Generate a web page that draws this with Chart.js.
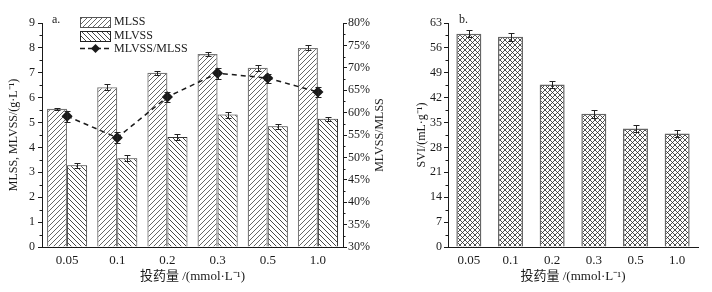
<!DOCTYPE html>
<html><head><meta charset="utf-8">
<script src="https://cdn.jsdelivr.net/npm/chart.js@4/dist/chart.umd.min.js"></script>
<style>
html,body{margin:0;padding:0;background:#fff;}
#wrap{position:relative;width:712px;height:292px;}
canvas{position:absolute;top:0;}
#ca{left:0;} #cb{left:400px;}
</style></head><body>
<div id="wrap"><canvas id="ca" width="400" height="292"></canvas><canvas id="cb" width="312" height="292"></canvas></div>
<script>
// ---- data ----
const doses=['0.05','0.1','0.2','0.3','0.5','1.0'];
const mlss=[5.55,6.42,7.0,7.75,7.2,8.0];
const mlssErr=[0.04,0.11,0.09,0.07,0.12,0.1];
const mlvss=[3.28,3.57,4.42,5.32,4.85,5.15];
const mlvssErr=[0.1,0.11,0.13,0.12,0.1,0.09];
const ratio=[59.2,54.4,63.5,68.8,67.7,64.6];
const ratioErr=[1.2,1.2,1.1,1.2,1.0,1.1];
const svi=[60.0,59.1,45.7,37.5,33.3,31.9];
const sviErr=[1.0,1.1,1.1,1.1,1.0,0.9];
const massAxis={min:0,max:9,step:1};
const ratioAxis={min:30,max:80,step:5};
const sviAxis={min:0,max:63,step:7};

const FONT="'Liberation Serif','Times New Roman','Noto Sans CJK SC',serif";
const INK='#1a1a1a';
const xTitle='投药量 /(mmol·L⁻¹)';

// ---- fill patterns ----
function hatch(ctx,kind,color,lw,size){
  const c=document.createElement('canvas');c.width=c.height=size;
  const x=c.getContext('2d');x.fillStyle='#fff';x.fillRect(0,0,size,size);
  x.strokeStyle=color;x.lineWidth=lw;x.beginPath();
  if(kind!=='\\'){x.moveTo(-1,size+1);x.lineTo(size+1,-1);x.moveTo(-1,1);x.lineTo(1,-1);x.moveTo(size-1,size+1);x.lineTo(size+1,size-1);}
  if(kind!=='/'){x.moveTo(-1,-1);x.lineTo(size+1,size+1);x.moveTo(size-1,-1);x.lineTo(size+1,1);x.moveTo(-1,size-1);x.lineTo(1,size+1);}
  x.stroke();
  return ctx.createPattern(c,'repeat');
}

// ---- plugins ----
const errorBars={id:'errorBars',afterDatasetsDraw(chart){
  const ctx=chart.ctx;
  chart.data.datasets.forEach((ds,di)=>{
    if(!ds.err)return;
    const meta=chart.getDatasetMeta(di);const sc=chart.scales[meta.yAxisID];
    ctx.save();ctx.strokeStyle='#222';ctx.lineWidth=1;
    meta.data.forEach((el,i)=>{
      const x=Math.round(el.x)+0.5;
      const y1=Math.round(sc.getPixelForValue(ds.data[i]+ds.err[i]))+0.5;
      const y2=Math.round(sc.getPixelForValue(ds.data[i]-ds.err[i]))+0.5;
      ctx.beginPath();ctx.moveTo(x,y1);ctx.lineTo(x,y2);
      ctx.moveTo(x-3,y1);ctx.lineTo(x+3,y1);ctx.moveTo(x-3,y2);ctx.lineTo(x+3,y2);ctx.stroke();
    });
    ctx.restore();
  });
}};
const minorTicks={id:'minorTicks',afterDraw(chart){
  const ctx=chart.ctx;ctx.save();ctx.strokeStyle=INK;ctx.lineWidth=1;
  Object.values(chart.scales).forEach(sc=>{
    if(sc.axis!=='y')return;
    const t=sc.ticks;
    const x=sc.position==='left'?chart.chartArea.left:chart.chartArea.right;
    const d=sc.position==='left'?-2.5:2.5;
    for(let i=0;i<t.length-1;i++){
      const y=Math.round(sc.getPixelForValue((t[i].value+t[i+1].value)/2))+0.5;
      ctx.beginPath();ctx.moveTo(x,y);ctx.lineTo(x+d,y);ctx.stroke();
    }
  });
  ctx.restore();
}};

function yScale(pos,rng,cb,width,pad){
  return {position:pos,min:rng.min,max:rng.max,
    grid:{drawOnChartArea:false,drawTicks:true,tickLength:4,tickColor:INK},
    border:{display:true,color:INK,width:1},
    ticks:{stepSize:rng.step,padding:pad,color:INK,font:{family:FONT,size:12},callback:cb},
    afterFit(s){s.width=width;}};
}
function xScale(){
  return {grid:{display:false,drawTicks:false},border:{display:true,color:INK,width:1},
    ticks:{padding:6,color:INK,font:{family:FONT,size:13}},
    title:{display:true,text:xTitle,color:INK,font:{family:FONT,size:13},padding:{top:0,bottom:8}},
    afterFit(s){s.height=45;}};
}

// ---- chart a ----
const ctxA=document.getElementById('ca').getContext('2d');
const patA=hatch(ctxA,'/','#555',0.9,5);
const patB=hatch(ctxA,'\\','#333',0.9,5);
const annotA={id:'annotA',afterDraw(chart){
  const c=chart.ctx,a=chart.chartArea;c.save();
  c.fillStyle=INK;c.font='12px '+FONT;c.textBaseline='middle';
  c.fillText('a.',52,20);
  c.fillStyle=patA;c.fillRect(80,17,30,10);c.strokeStyle='#555';c.lineWidth=1;c.strokeRect(80.5,17.5,30,10);
  c.fillStyle=patB;c.fillRect(80,31,30,10);c.strokeStyle='#222';c.strokeRect(80.5,31.5,30,10);
  c.strokeStyle=INK;c.lineWidth=1.5;c.setLineDash([5,3]);c.beginPath();c.moveTo(80,48.5);c.lineTo(111,48.5);c.stroke();c.setLineDash([]);
  c.fillStyle=INK;c.beginPath();c.moveTo(95.5,44);c.lineTo(100,48.5);c.lineTo(95.5,53);c.lineTo(91,48.5);c.closePath();c.fill();
  c.fillText('MLSS',114,22);c.fillText('MLVSS',114,36);c.fillText('MLVSS/MLSS',114,49);
  c.translate(380,(a.top+a.bottom)/2);c.rotate(-Math.PI/2);c.textAlign='center';
  c.fillText('MLVSS/MLSS',0,0);
  c.restore();
}};
new Chart(ctxA,{
  type:'bar',
  data:{labels:doses,datasets:[
    {type:'line',label:'MLVSS/MLSS',data:ratio,err:ratioErr,yAxisID:'y1',order:0,
     borderColor:INK,borderWidth:1.5,borderDash:[5,4],pointStyle:'rectRot',pointRadius:4.5,
     pointBackgroundColor:INK,pointBorderColor:INK,fill:false,tension:0},
    {label:'MLSS',data:mlss,err:mlssErr,yAxisID:'y',order:2,backgroundColor:patA,borderColor:'#777',borderWidth:1.3},
    {label:'MLVSS',data:mlvss,err:mlvssErr,yAxisID:'y',order:2,backgroundColor:patB,borderColor:'#333',borderWidth:1},
  ]},
  options:{responsive:false,animation:false,
    categoryPercentage:0.8,barPercentage:1,
    layout:{padding:{top:23,right:0,bottom:0,left:0}},
    plugins:{legend:{display:false},tooltip:{enabled:false}},
    scales:{
      x:xScale(),
      y:Object.assign(yScale('left',massAxis,v=>v,42,3),
        {title:{display:true,text:'MLSS, MLVSS/(g·L⁻¹)',color:INK,font:{family:FONT,size:12},padding:{top:7,bottom:0}}}),
      y1:yScale('right',ratioAxis,v=>v+'%',57,1)
    }},
  plugins:[errorBars,minorTicks,annotA]
});

// ---- chart b ----
const ctxB=document.getElementById('cb').getContext('2d');
const patC=hatch(ctxB,'x','#222',0.8,5);
const annotB={id:'annotB',afterDraw(chart){
  const c=chart.ctx;c.save();c.fillStyle=INK;c.font='12px '+FONT;c.textBaseline='middle';
  c.fillText('b.',59,20);c.restore();
}};
new Chart(ctxB,{
  type:'bar',
  data:{labels:doses,datasets:[
    {label:'SVI',data:svi,err:sviErr,yAxisID:'y',backgroundColor:patC,borderColor:'#666',borderWidth:1.5}
  ]},
  options:{responsive:false,animation:false,
    categoryPercentage:1,barPercentage:0.6,
    layout:{padding:{top:23,right:14,bottom:0,left:0}},
    plugins:{legend:{display:false},tooltip:{enabled:false}},
    scales:{
      x:xScale(),
      y:Object.assign(yScale('left',sviAxis,v=>v,48,2),
        {title:{display:true,text:'SVI/(mL·g⁻¹)',color:INK,font:{family:FONT,size:12},padding:{top:15,bottom:0}}})
    }},
  plugins:[errorBars,minorTicks,annotB]
});
</script>
</body></html>
